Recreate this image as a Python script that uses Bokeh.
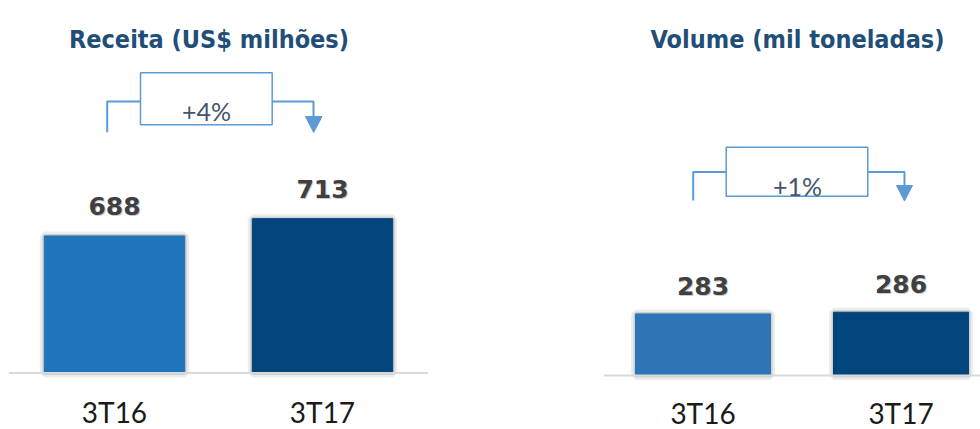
from bokeh.plotting import figure
from bokeh.models import ColumnDataSource, FactorRange, Range1d, LabelSet, Label, Span
from bokeh.layouts import row
from bokeh.transform import dodge
from bokeh.core.properties import value
from bokeh.embed import file_html
from bokeh.resources import INLINE

# ---------------- data ----------------
categories = ["3T16", "3T17"]
receita = [688, 713]
volume = [283, 286]
receita_colors = ["#1F74BA", "#00457C"]
volume_colors = ["#2E75B6", "#00457C"]
titles = ["Receita (US$ milhões)", "Volume (mil toneladas)"]
changes = ["+4%", "+1%"]

# ---------------- layout ----------------
H = 429
TOP = 0  # page y of figure top
TITLE_COLOR = "#1F4E79"
ACCENT = "#5B9BD5"

left_cfg = dict(width=428, mbl=8, frame_left=8, sx=208.0, factor_padding=0.0,
                range_padding=0.00962, dodge=0.0, bar_width=0.675,
                base=490, ky=0.692, baseline_wy=372.5, val_off=21, cat_off=-50,
                title_xy=(208.5, 39),
                box=(140, 271.7, 72.3, 124.3),
                lbr=[(106.7, 131.7), (106.7, 101), (140, 101)],
                rbr=[(271.7, 101), (313, 101), (313, 117)],
                tri=[(305, 116), (321.5, 116), (313.2, 132)],
                chg_xy=(206, 110))

right_cfg = dict(width=552, mbl=175, frame_left=603, sx=179.0, factor_padding=0.10615,
                 range_padding=0.0, dodge=0.0559, bar_width=0.754,
                 base=175, ky=0.57, baseline_wy=375, val_off=19, cat_off=-48,
                 title_xy=(797, 39),
                 box=(725.7, 867.3, 146.7, 195.7),
                 lbr=[(692.7, 200), (692.7, 171.5), (725.7, 171.5)],
                 rbr=[(867.3, 171.5), (904, 171.5), (904, 185)],
                 tri=[(896, 185), (912, 185), (904, 200.5)],
                 chg_xy=(797, 185))


def make_panel(vals, colors, title, change, c):
    ky, base, bl = c["ky"], c["base"], c["baseline_wy"]
    y_end = base + (bl - TOP) / ky
    y_start = base - (TOP + H - bl) / ky
    x0 = -c["range_padding"]

    def X(wx):
        return x0 + (wx - c["frame_left"]) / c["sx"]

    def Y(wy):
        return y_end - (wy - TOP) / ky

    xr = FactorRange(*categories, factor_padding=c["factor_padding"],
                     range_padding=c["range_padding"], range_padding_units="absolute")
    p = figure(x_range=xr, y_range=Range1d(y_start, y_end), width=c["width"], height=H,
               min_border_left=c["mbl"], min_border_right=0, min_border_top=0,
               min_border_bottom=0, toolbar_location=None, output_backend="svg",
               x_axis_location=None, y_axis_location=None, outline_line_color=None)
    p.grid.grid_line_color = None

    src = ColumnDataSource(dict(cat=categories, val=vals, color=colors,
                                label=[str(v) for v in vals]))
    xd = dodge("cat", c["dodge"], range=xr)

    # soft shadow around bars
    p.vbar(x=xd, top="val", bottom=base, width=c["bar_width"], source=src,
           fill_color=None, line_color="#C8C8C8", line_width=9, line_alpha=0.35)
    p.vbar(x=xd, top="val", bottom=base, width=c["bar_width"], source=src,
           fill_color=None, line_color="#B0B0B0", line_width=4, line_alpha=0.5)
    p.vbar(x=xd, top="val", bottom=base, width=c["bar_width"], source=src,
           fill_color="color", line_color="color", line_width=1)

    p.add_layout(Span(location=base, dimension="width", line_color="#DADADA", line_width=2))

    # value labels with a light shadow
    p.add_layout(LabelSet(x=xd, y="val", text="label", source=src, x_offset=1,
                          y_offset=c["val_off"] - 1, text_align="center",
                          text_baseline="alphabetic", text_font=value("DejaVu Sans"),
                          text_font_style="bold", text_font_size="25px",
                          text_color="#A6A6A6", text_alpha=0.6))
    p.add_layout(LabelSet(x=xd, y="val", text="label", source=src,
                          y_offset=c["val_off"], text_align="center",
                          text_baseline="alphabetic", text_font=value("DejaVu Sans"),
                          text_font_style="bold", text_font_size="25px",
                          text_color="#404040"))
    # category labels
    p.add_layout(LabelSet(x=xd, y=base, text="cat", source=src,
                          y_offset=c["cat_off"], text_align="center",
                          text_baseline="alphabetic", text_font=value("Lato"),
                          text_font_size="28px", text_color="#1A1A1A"))

    # title
    tx, ty = c["title_xy"]
    p.add_layout(Label(x=X(tx), y=Y(ty), text=title, text_align="center",
                       text_baseline="alphabetic", text_font="DejaVu Sans Condensed",
                       text_font_style="bold", text_font_size="25px",
                       text_color=TITLE_COLOR))

    # change bracket
    for pts in (c["lbr"], c["rbr"]):
        p.line(x=[X(a) for a, b in pts], y=[Y(b) for a, b in pts],
               line_color=ACCENT, line_width=2)
    p.patch(x=[X(a) for a, b in c["tri"]], y=[Y(b) for a, b in c["tri"]],
            fill_color=ACCENT, line_color=ACCENT)
    l, r, t, b = c["box"]
    p.quad(left=[X(l)], right=[X(r)], top=[Y(t)], bottom=[Y(b)],
           fill_color="white", line_color=ACCENT, line_width=1.5)
    cx, cy = c["chg_xy"]
    p.add_layout(Label(x=X(cx), y=Y(cy), text=change, text_align="center",
                       text_baseline="alphabetic", text_font="Lato",
                       text_font_size="25px", text_color="#44546A"))
    return p


p_left = make_panel(receita, receita_colors, titles[0], changes[0], left_cfg)
p_right = make_panel(volume, volume_colors, titles[1], changes[1], right_cfg)

p = row(p_left, p_right)

open("out.html", "w").write(file_html(p, INLINE))
